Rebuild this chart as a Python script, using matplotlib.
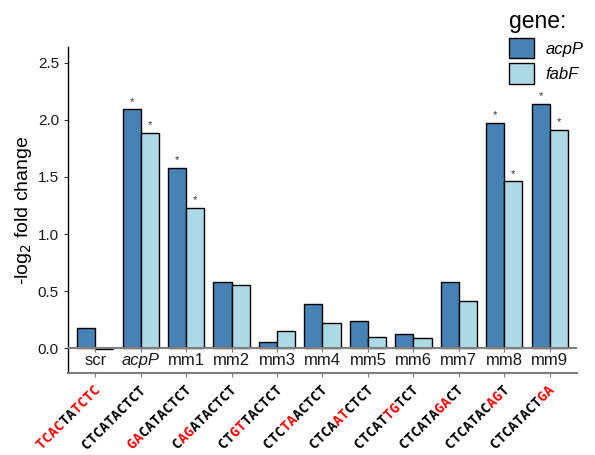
#!/usr/bin/env python

import numpy                  as np
import matplotlib
matplotlib.use('Agg')
import matplotlib.pyplot      as plt
import matplotlib.patches     as mpatches
import matplotlib.transforms  as mtransforms
from matplotlib.font_manager  import FontProperties

plt.rcParams['font.family'] = ['Liberation Sans', 'DejaVu Sans']

# Data
groups      = ['scr', 'acpP', 'mm1', 'mm2', 'mm3', 'mm4', 'mm5', 'mm6', 'mm7', 'mm8', 'mm9']
acpP_vals   = [0.18, 2.09, 1.575, 0.58, 0.055, 0.39, 0.24, 0.125, 0.58, 1.975, 2.135]
fabF_vals   = [-0.01, 1.885, 1.225, 0.555, 0.15, 0.22, 0.10, 0.09, 0.41, 1.46, 1.91]
acpP_sig    = [False, True, True, False, False, False, False, False, False, True, True]
fabF_sig    = [False, True, True, False, False, False, False, False, False, True, True]
# sequence labels as (text, is_red) segments
seq_labels  = [
    [('TCAC', True), ('TA', False), ('TCTC', True)],
    [('CTCATACTCT', False)],
    [('GA', True), ('CATACTCT', False)],
    [('C', False), ('AG', True), ('ATACTCT', False)],
    [('CT', False), ('GT', True), ('TACTCT', False)],
    [('CTC', False), ('TA', True), ('ACTCT', False)],
    [('CTCA', False), ('AT', True), ('CTCT', False)],
    [('CTCAT', False), ('TG', True), ('TCT', False)],
    [('CTCATA', False), ('GA', True), ('CT', False)],
    [('CTCATAC', False), ('AG', True), ('T', False)],
    [('CTCATACT', False), ('GA', True)],
]

col_acpP = '#4682B4'
col_fabF = '#ADD8E6'
width    = 0.4

figure = plt.figure(figsize=(5.95, 4.55), dpi=100)
ax     = figure.add_axes([0.1143, 0.1802, 0.9697 - 0.1143, 0.8967 - 0.1802])

xpos = np.arange(len(groups))
b1 = ax.bar(xpos - width/2, acpP_vals, width, color=col_acpP, edgecolor='black', linewidth=1.0, zorder=3)
b2 = ax.bar(xpos + width/2, fabF_vals, width, color=col_fabF, edgecolor='black', linewidth=1.0, zorder=3)

# significance stars
for bars, sig, vals in [(b1, acpP_sig, acpP_vals), (b2, fabF_sig, fabF_vals)]:
    for bar, s, v in zip(bars, sig, vals):
        if s:
            ax.annotate('*', (bar.get_x() + bar.get_width()/2, v), xytext=(0, 2),
                        textcoords='offset points', ha='center', va='bottom',
                        fontsize=8, color='#333333')

ax.axhline(0, color='#7f7f7f', linewidth=1.5, zorder=4)
ax.set_xlim(-0.6, 10.6)
ax.set_ylim(-0.216, 2.636)

# inner ticks under the zero line
ax.vlines(xpos, -0.03, 0, color='#7f7f7f', linewidth=0.8, zorder=4)

# category names inside the panel
for x, g in zip(xpos, groups):
    style = 'italic' if g == 'acpP' else 'normal'
    ax.text(x, -0.105, g, ha='center', va='center', fontsize=12, style=style, color='#1a1a1a')

ax.set_yticks([0.0, 0.5, 1.0, 1.5, 2.0, 2.5])
ax.set_yticklabels(['0.0', '0.5', '1.0', '1.5', '2.0', '2.5'])
ax.tick_params(axis='y', length=3, color='#333333', labelsize=11, labelcolor='#1a1a1a', width=0.8)
ax.set_xticks(xpos)
ax.set_xticklabels([])
ax.tick_params(axis='x', length=3, color='#7f7f7f', width=0.8)
ax.set_ylabel('-log$_2$ fold change', fontsize=14, labelpad=3)

ax.spines['top'].set_visible(False)
ax.spines['right'].set_visible(False)
ax.spines['left'].set_linewidth(1.0)
ax.spines['bottom'].set_color('#7f7f7f')
ax.spines['bottom'].set_linewidth(1.5)

# multi-coloured rotated sequence labels: monospace font, one black layer and
# one red layer, the other colour's letters blanked out with spaces
seq_fs = 10
fp   = FontProperties(family='DejaVu Sans Mono', weight='bold', size=seq_fs)
ang  = np.deg2rad(45)
base = mtransforms.blended_transform_factory(ax.transData, ax.transAxes)
for x, segs in zip(xpos, seq_labels):
    black = ''.join(s if not red else ' '*len(s) for s, red in segs)
    redtx = ''.join(s if red else ' '*len(s) for s, red in segs)
    total = len(black) * 0.602 * seq_fs
    dx    = -total*np.cos(ang) / 72.0 - 1.5/72.0
    dy    = -total*np.sin(ang) / 72.0 - 7.5/72.0
    tr    = base + mtransforms.ScaledTranslation(dx, dy, figure.dpi_scale_trans)
    for txt, c in [(black, 'black'), (redtx, 'red')]:
        if txt.strip():
            ax.text(x, 0, txt, transform=tr, rotation=45, rotation_mode='anchor',
                    ha='left', va='top', fontproperties=fp, color=c, clip_on=False)

# legend
handles = [mpatches.Patch(facecolor=col_acpP, edgecolor='black', linewidth=1.0, label='acpP'),
           mpatches.Patch(facecolor=col_fabF, edgecolor='black', linewidth=1.0, label='fabF')]
leg = figure.legend(handles=handles, loc='upper left', bbox_to_anchor=(0.845, 0.993),
                    frameon=False, title='gene:', title_fontsize=16.5,
                    prop={'style': 'italic', 'size': 12}, alignment='left',
                    handlelength=1.45, handleheight=1.5, handletextpad=0.7,
                    labelspacing=0.3, borderaxespad=0.0)

plt.savefig('out.png', dpi=100)
plt.close()
